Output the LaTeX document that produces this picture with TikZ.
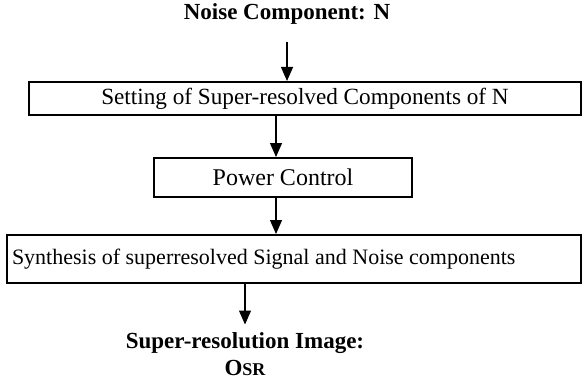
\documentclass[tikz,border=0pt]{standalone}
\usepackage{fontspec}
\setmainfont{Liberation Serif}
\usetikzlibrary{arrows.meta,positioning}

\tikzset{
  stagebox/.style={draw, line width=1pt, inner sep=0pt, font=\fontsize{12}{14}\selectfont},
  headline/.style={font=\bfseries\fontsize{11.5}{13.5}\selectfont, inner sep=1pt, align=center},
  flow/.style={line width=0.6pt, -{Triangle[length=7pt,width=6pt]}}
}

\begin{document}
\begin{tikzpicture}[x=0.5pt, y=-0.5pt]
        \useasboundingbox (0,0) rectangle (582,385);
        \node[headline] (noise) at (287,14) {Noise Component: N};
        \node[stagebox, font=\fontsize{11.6}{14}\selectfont, minimum width=276pt, minimum height=16.5pt] (setting) at (305,98.5)
          {Setting of Super-resolved Components of N};
        \node[stagebox, minimum width=129pt, minimum height=19.5pt] (power) at (283,177.5)
          {Power Control};
        \node[stagebox, font=\fontsize{11}{13}\selectfont, text width=282pt, inner xsep=2.5pt, align=flush left, minimum height=24pt] (synth) at (294,259)
          {Synthesis of superresolved Signal and Noise components};
        \node[headline] (result) at (245,354.5) {Super-resolution Image:\\O{\fontsize{9}{10}\selectfont SR}};
        \coordinate (spine) at (276,0);
        % arrows down the chain
        \draw[flow, shorten <=7.5pt] (noise.south) -- (noise.south |- setting.north);
        \draw[flow] (setting.south -| spine) -- (power.north -| spine);
        \draw[flow] (power.south -| spine) -- (synth.north -| spine);
        \draw[flow, shorten >=3pt] (synth.south -| result) -- (result.north);
      \end{tikzpicture}
\end{document}
